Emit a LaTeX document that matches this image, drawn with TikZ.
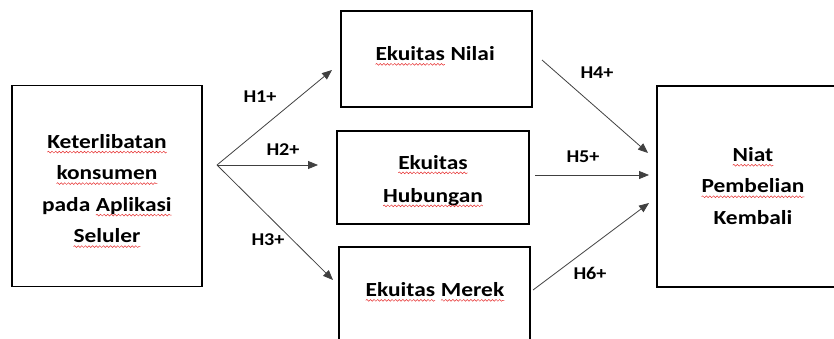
\documentclass[tikz,border=0pt]{standalone}
\usepackage{fontspec}
\setmainfont{Carlito}
\newfontfamily\boxfont[FakeStretch=1.17]{Carlito}
\newfontfamily\labfont[FakeStretch=1.12]{Carlito}
\usetikzlibrary{arrows.meta,decorations.pathmorphing}
\definecolor{squig}{RGB}{230,50,50}
\newcommand\sq[1]{\tikz[baseline=(w.base)]{\node[draw=none,fill=none,minimum width=0pt,minimum height=0pt,inner sep=0pt,outer sep=0pt](w){#1};\draw[squig,line width=0.5pt,decorate,decoration={snake,amplitude=0.9pt,segment length=3.6pt}] ([yshift=-3.8pt]w.base west) -- ([yshift=-3.8pt]w.base east);}}
\tikzset{
  box/.style={draw=black,line width=1.6pt,minimum width=#1,inner sep=0pt},
  txt/.style={inner sep=0pt,align=center,font=\boxfont\fontsize{20}{31.5}\selectfont\bfseries},
  conn/.style={draw=black!75,line width=0.8pt,-{Triangle[length=10pt,width=8pt]}},
  lab/.style={font=\labfont\fontsize{18}{22}\selectfont\bfseries,inner sep=0pt}
}
\begin{document}
\begin{tikzpicture}[x=1pt,y=-1pt]
\useasboundingbox (0,0) rectangle (834,338);
\clip (0,0) rectangle (834,338);
\node[box=190pt,minimum height=201pt] (left) at (107,186) {};
\node[box=191pt,minimum height=96pt] (nilai) at (436.5,59) {};
\node[box=192pt,minimum height=93pt] (hub) at (433,177.5) {};
\node[box=191pt,minimum height=98pt] (merek) at (434.5,296) {};
\node[box=192pt,minimum height=201pt] (right) at (753,186.5) {};
\node[txt] (lefttext) at (107,191) {\sq{Keterlibatan}\\\sq{konsumen}\\pada \sq{Aplikasi}\\\sq{Seluler}};
\node[txt] (nilaitext) at (435,56) {\sq{Ekuitas} Nilai};
\node[txt] (hubtext) at (433,181) {\sq{Ekuitas}\\[1.5pt]\sq{Hubungan}};
\node[txt] (merektext) at (435,292) {\sq{Ekuitas} \sq{Merek}};
\node[txt] (righttext) at (753,186) {\sq{Niat}\\\sq{Pembelian}\\Kembali};
\coordinate (split) at (217,165);
\coordinate (e1) at (332,70);
\coordinate (e2) at (318,165);
\coordinate (e3) at (333,280);
\coordinate (s4) at (542,60);
\coordinate (s5) at (535,175);
\coordinate (s6) at (533,290);
\coordinate (f4) at (648,153);
\coordinate (f5) at (649,175);
\coordinate (f6) at (649,203);
\draw[conn] (split) -- (e1);
\draw[conn] (split) -- (e2);
\draw[conn] (split) -- (e3);
\draw[conn] (s4) -- (f4);
\draw[conn] (s5) -- (f5);
\draw[conn] (s6) -- (f6);
\node[lab] (h1) at (260,97) {H1+};
\node[lab] (h2) at (283,150) {H2+};
\node[lab] (h3) at (268,240) {H3+};
\node[lab] (h4) at (597,73) {H4+};
\node[lab] (h5) at (583,157) {H5+};
\node[lab] (h6) at (590,273) {H6+};
\end{tikzpicture}
\end{document}
